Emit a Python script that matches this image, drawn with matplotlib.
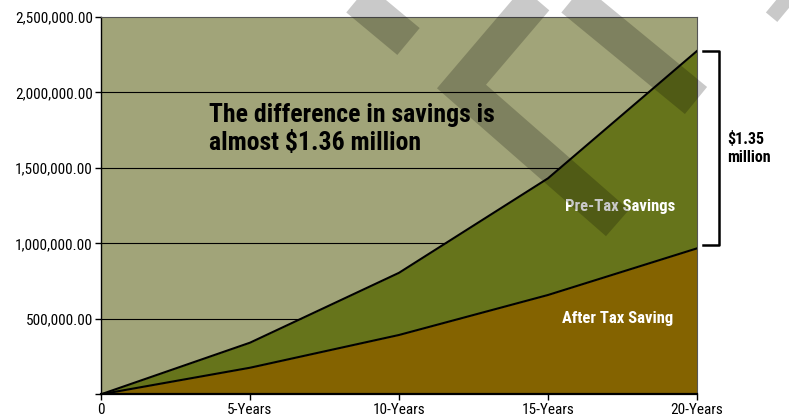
import numpy as np
import matplotlib.pyplot as plt
from matplotlib.lines import Line2D
from matplotlib.ticker import FuncFormatter
import matplotlib.transforms as mtransforms
import matplotlib.font_manager as fm

# data
periods = ['0', '5-Years', '10-Years', '15-Years', '20-Years']
pre_tax = [0, 342000, 805000, 1431000, 2275000]
after_tax = [0, 176000, 393000, 658000, 967000]
y_ticks = [0, 500000, 1000000, 1500000, 2000000, 2500000]
bracket_bottom = 990000

# pick a condensed face if one is installed
installed = set(f.name for f in fm.fontManager.ttflist)
wanted = ['Roboto Condensed', 'Archivo Narrow', 'Arial Narrow', 'Liberation Sans Narrow',
          'PT Sans Narrow', 'Fira Sans Condensed', 'IBM Plex Sans Condensed',
          'Barlow Semi Condensed', 'Encode Sans Condensed', 'Asap Condensed']
cond = [w for w in wanted if w in installed]
plt.rcParams['font.family'] = cond[:1] + ['Liberation Sans', 'DejaVu Sans']

bg = '#a1a479'
green = '#66741b'
brown = '#846300'

fig = plt.figure(figsize=(7.89, 4.16), dpi=100)
ax = fig.add_axes([101 / 789, 1 - 394.3 / 416, 596 / 789, 377.3 / 416])
ax.set_facecolor(bg)

x = np.arange(len(periods))
ax.fill_between(x, 0, after_tax, color=brown, lw=0, zorder=2)
ax.fill_between(x, after_tax, pre_tax, color=green, lw=0, zorder=2)
ax.plot(x, pre_tax, color='black', lw=1.5, zorder=3)
ax.plot(x, after_tax, color='black', lw=1.5, zorder=3)

# grid lines
for v in y_ticks[1:-1]:
    ax.axhline(v, color='black', lw=0.8, zorder=1)

ax.set_xlim(0, len(periods) - 1)
ax.set_ylim(0, 2500000)
ax.set_xticks(x)
ax.set_xticklabels(periods)
ax.set_yticks(y_ticks)
ax.yaxis.set_major_formatter(FuncFormatter(lambda v, p: '' if v == 0 else '{:,.2f}'.format(v)))
ax.tick_params(axis='both', labelsize=11, length=4, width=1, color='black', pad=2)

for s in ['top', 'right']:
    ax.spines[s].set_color('#555555')
    ax.spines[s].set_linewidth(0.8)
ax.spines['left'].set_linewidth(1)
ax.spines['bottom'].set_linewidth(1.6)

# annotations
ax.text(0.181, 0.772, 'The difference in savings is\nalmost $1.36 million', transform=ax.transAxes,
        fontsize=18.5, fontweight='bold', va='top', ha='left', linespacing=1.2)
ax.text(0.871, 0.499, 'Pre-Tax Savings', transform=ax.transAxes, fontsize=12,
        fontweight='bold', color='white', ha='center', va='center', zorder=4)
ax.text(0.866, 0.202, 'After Tax Saving', transform=ax.transAxes, fontsize=12,
        fontweight='bold', color='white', ha='center', va='center', zorder=4)

# bracket on the right
tr = mtransforms.blended_transform_factory(ax.transAxes, ax.transData)
ax.plot([1.010, 1.037, 1.037, 1.010], [pre_tax[-1], pre_tax[-1], bracket_bottom, bracket_bottom],
        color='black', lw=1.8, transform=tr, clip_on=False)
ax.text(1.05, (pre_tax[-1] + bracket_bottom) / 2, '$1.35\nmillion', transform=tr,
        fontsize=11.5, fontweight='bold', ha='left', va='center', linespacing=1.3)

# watermark bands (pixel coordinates of the picture)
def band(pts):
    xs = [p[0] / 789 for p in pts]
    ys = [1 - p[1] / 416 for p in pts]
    fig.add_artist(Line2D(xs, ys, transform=fig.transFigure, color='black', alpha=0.21,
                          lw=25.2, solid_joinstyle='miter', solid_capstyle='butt', zorder=10))

band([(331, -23), (408.5, 41.5)])
band([(617.5, 223), (461.5, 86.5), (551, -18.6), (696, 100.5)])
band([(711.5, -55.5), (788.5, 8.5)])

plt.savefig('out.png', dpi=100)
